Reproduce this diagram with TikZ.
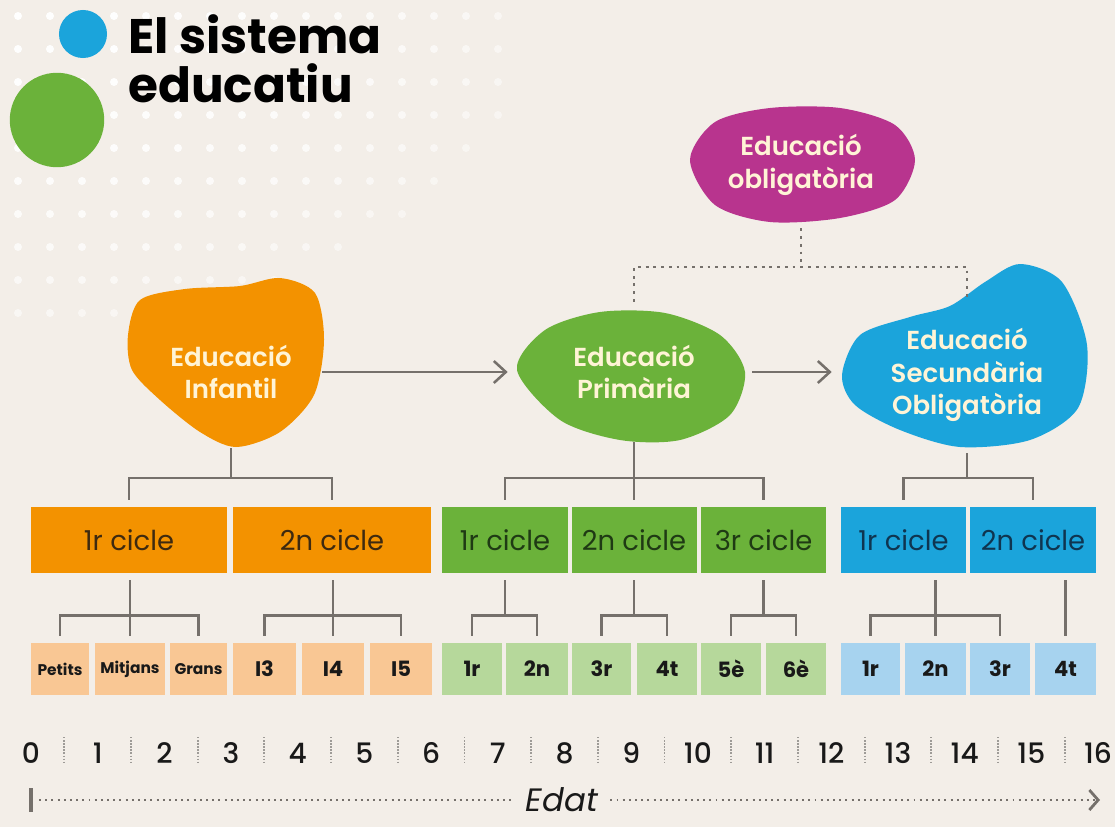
\documentclass[tikz,border=0pt]{standalone}
\usepackage{fontspec}
\setmainfont{Poppins}
\newfontfamily\medfont{Poppins SemiBold}
\newfontfamily\lightbold{Poppins Medium}
\usetikzlibrary{positioning}
\usetikzlibrary{calc}
\usetikzlibrary{arrows.meta}
\definecolor{bgcol}{HTML}{F3EEE8}
\definecolor{orangeC}{HTML}{F39200}
\definecolor{lorange}{HTML}{F9C794}
\definecolor{greenC}{HTML}{6BB23A}
\definecolor{lgreen}{HTML}{B6D89B}
\definecolor{blueC}{HTML}{1BA4DB}
\definecolor{lblue}{HTML}{A7D3EF}
\definecolor{magentaC}{HTML}{B8348E}
\definecolor{blobtxt}{HTML}{FFF4D6}
\definecolor{orangetxt}{HTML}{3E2A10}
\definecolor{greentxt}{HTML}{1F3A14}
\definecolor{bluetxt}{HTML}{0F3550}
\definecolor{linegray}{HTML}{75706B}
\newcommand\smalllbl{\fontsize{11}{13}\selectfont}
\tikzset{
	every node/.style = {inner sep=0pt},
	blobtext/.style = {align=center, text=blobtxt, font=\medfont\fontsize{18.5}{23}\selectfont},
	cyclebox/.style = {minimum height=1.65cm, font=\fontsize{19.5}{21}\selectfont},
	yearbox/.style = {minimum height=1.3cm, text=black!90, font=\bfseries\fontsize{15}{17}\selectfont},
	yearnum/.style = {text=black!90, font=\lightbold\fontsize{20}{22}\selectfont},
	treeline/.style = {draw=linegray, line width=2pt, shorten <=0.17cm, shorten >=0.17cm},
	flowarrow/.style = {draw=linegray, line width=1.8pt, -{Straight Barb[length=0.3cm,width=0.55cm]}, shorten >=0.2cm},
	dotconn/.style = {draw=linegray, line width=2pt, dash pattern=on 2pt off 3.5pt},
	sepline/.style = {draw=linegray!70, line width=1.3pt, dash pattern=on 1pt off 1.2pt},
	axisdots/.style = {draw=linegray, line width=1.4pt, dash pattern=on 1.4pt off 3pt}
}
\begin{document}
\begin{tikzpicture}[x=0.025cm, y=-0.025cm]
	% background and dots
	\fill[bgcol] (0,0) rectangle (1115,827);
	\useasboundingbox (0,0) rectangle (1115,827);
	\foreach \i in {0,...,16} \foreach \j in {0,...,10} {
		\pgfmathsetmacro\dd{((18+32*\i)/530)^2+((16+33*\j)/340)^2}
		\ifdim\dd pt<1pt
			\pgfmathsetmacro\op{1-0.55*\dd}
			\fill[white, opacity=\op] (18+32*\i,16+33*\j) circle[radius=0.1cm];
		\fi
	}
	% title
	\fill[blueC] (83,34) circle[radius=0.6cm];
	\fill[greenC] (57,120) circle[radius=1.18cm];
	\node[anchor=base west, align=left, font=\bfseries\fontsize{34.5}{35}\selectfont] (title) at (128,103) {El sistema\\educatiu};

	% blobs
	\fill[orangeC] plot[smooth cycle] coordinates {(128,335) (140,300) (185,289) (240,286) (280,278) (315,293) (324,340) (314,395) (280,432) (236,447) (200,432) (160,400) (132,370)};
	\fill[greenC] plot[smooth cycle] coordinates {(517,370) (545,330) (600,312) (665,313) (720,335) (745,372) (730,415) (680,440) (620,440) (560,420)};
	\fill[blueC] plot[smooth cycle] coordinates {(842,375) (860,335) (910,317) (950,306) (985,282) (1020,264) (1062,282) (1087,345) (1078,408) (1030,440) (960,447) (900,430) (855,405)};
	\fill[magentaC] plot[smooth cycle] coordinates {(690,160) (715,122) (770,108) (840,108) (895,125) (915,160) (895,200) (840,218) (770,222) (715,205)};

	\node[blobtext, minimum width=4.55cm, minimum height=3.8cm] (infantil) at (231,372) {Educació\\Infantil};
	\node[blobtext, minimum width=5.9cm, minimum height=3.5cm] (primaria) at (634,372) {Educació\\Primària};
	\node[blobtext, minimum width=6.35cm, minimum height=3.9cm] (secundaria) at (967,375) {Educació\\Secundària\\Obligatòria};
	\node[blobtext, minimum width=5.5cm, minimum height=3.15cm] (obligatoria) at (801,165) {Educació\\obligatòria};

	\draw[flowarrow] (infantil.east) -- (infantil.east -| primaria.west);
	\draw[flowarrow] (primaria.east) -- (primaria.east -| secundaria.west);

	\coordinate (jobl) at (801,267);
	\draw[dotconn] (obligatoria.south) -- (jobl);
	\draw[dotconn] (primaria.north) |- (jobl) -| (secundaria.north);

	% cycles
	\foreach \nm/\x/\w/\lbl/\col/\tc in {inf1/129/196/1r cicle/orangeC/orangetxt, inf2/332/198/2n cicle/orangeC/orangetxt,
		pri1/505/126/1r cicle/greenC/greentxt, pri2/634/125/2n cicle/greenC/greentxt, pri3/763.5/125/3r cicle/greenC/greentxt,
		sec1/903.5/125/1r cicle/blueC/bluetxt, sec2/1033/126/2n cicle/blueC/bluetxt}
		\node[cyclebox, fill=\col, text=\tc, minimum width=\w*0.025cm] (\nm) at (\x,540) {\lbl};

	% years
	\foreach \nm/\x/\w/\lbl/\col in {pet/60/58/\smalllbl Petits/lorange, mit/130/70/\smalllbl Mitjans/lorange, gra/198.5/57/\smalllbl Grans/lorange,
		ia/264.5/63/I3/lorange, ib/333/62/I4/lorange, ic/401/62/I5/lorange,
		pr1/472/60/1r/lgreen, pr2/537/62/2n/lgreen, pr3/601.5/59/3r/lgreen, pr4/667/60/4t/lgreen, pr5/731/60/5è/lgreen, pr6/796/60/6è/lgreen,
		es1/870.5/59/1r/lblue, es2/935.5/61/2n/lblue, es3/1000/60/3r/lblue, es4/1065.5/61/4t/lblue}
		\node[yearbox, fill=\col, minimum width=\w*0.025cm] (\nm) at (\x,669) {\lbl};

	% tree: stages to cycles
	\coordinate (jinf) at (231,478);
	\coordinate (jpri) at (634,478);
	\coordinate (jsec) at (967,478);
	\draw[treeline, shorten <=0pt, shorten >=0pt] (infantil.south) -- (jinf);
	\draw[treeline] (inf1.north) |- (jinf) -| (inf2.north);
	\draw[treeline, shorten <=0pt] (primaria.south) -- (pri2.north);
	\draw[treeline] (pri1.north) |- (jpri) -| (pri3.north);
	\draw[treeline, shorten <=0pt, shorten >=0pt] (secundaria.south) -- (jsec);
	\draw[treeline] (sec1.north) |- (jsec) -| (sec2.north);

	% tree: cycles to years
	\coordinate (ji1) at ($(inf1.south -| mit.north)+(0,42)$);
	\coordinate (ji2) at ($(inf2.south -| ib.north)+(0,42)$);
	\coordinate (jp1) at ($(pri1.south)+(0,42)$);
	\coordinate (jp2) at ($(pri2.south)+(0,42)$);
	\coordinate (jp3) at ($(pri3.south)+(0,42)$);
	\coordinate (js1) at ($(sec1.south -| es2.north)+(0,42)$);
	\draw[treeline] (inf1.south -| mit.north) -- (mit.north);
	\draw[treeline] (pet.north) |- (ji1) -| (gra.north);
	\draw[treeline] (inf2.south -| ib.north) -- (ib.north);
	\draw[treeline] (ia.north) |- (ji2) -| (ic.north);
	\draw[treeline, shorten >=0pt] (pri1.south) -- (jp1);
	\draw[treeline] (pr1.north) |- (jp1) -| (pr2.north);
	\draw[treeline, shorten >=0pt] (pri2.south) -- (jp2);
	\draw[treeline] (pr3.north) |- (jp2) -| (pr4.north);
	\draw[treeline, shorten >=0pt] (pri3.south) -- (jp3);
	\draw[treeline] (pr5.north) |- (jp3) -| (pr6.north);
	\draw[treeline] (sec1.south -| es2.north) -- (es2.north);
	\draw[treeline] (es1.north) |- (js1) -| (es3.north);
	\draw[treeline] (sec2.south -| es4.north) -- (es4.north);

	% age axis
	\foreach \i in {0,...,16}
		\node[yearnum] (n\i) at (31+66.69*\i,753) {\i};
	\foreach \i in {0,...,15}
		\draw[sepline] (64.3+66.69*\i,737) -- (64.3+66.69*\i,764);
	\node[font=\itshape\fontsize{23}{25}\selectfont, text=black!90] (edat) at (562,800) {Edat};
	\coordinate (tstart) at (31,800);
	\coordinate (tend) at (1100,800);
	\draw[draw=linegray, line width=2.2pt] (31,788) -- (31,812);
	\draw[axisdots, shorten <=0.2cm, shorten >=0.3cm] (tstart) -- (edat.west);
	\draw[axisdots, shorten <=0.3cm, -{Straight Barb[length=0.22cm,width=0.5cm,line width=2pt]}] (edat.east) -- (tend);
\end{tikzpicture}
\end{document}
